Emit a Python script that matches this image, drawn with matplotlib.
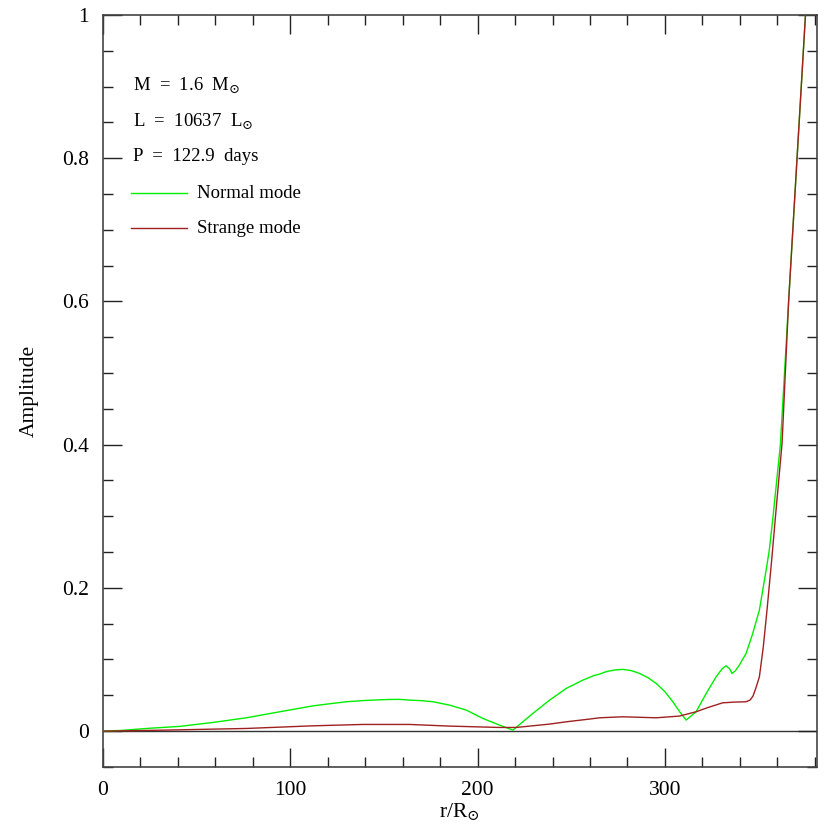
import matplotlib
matplotlib.use("Agg")
import matplotlib.pyplot as plt
from matplotlib.ticker import MultipleLocator

plt.rcParams['font.family'] = ['Liberation Serif', 'DejaVu Serif']
plt.rcParams['mathtext.fontset'] = 'dejavuserif'

# Normal mode (green)
normal_r = [0, 10, 25, 41, 58.8, 76.6, 94.4, 112.2, 122, 130, 140, 147.7, 153,
            158.4, 163.7, 170, 176.2, 185, 194, 202.8, 211.7, 218.8, 229.5,
            238.4, 247.3, 256.2, 262, 265.1, 268.6, 273, 277.5, 282, 286.4,
            291, 295.3, 300, 304.2, 308, 311.3, 316.6, 322, 327.3, 330.5,
            332.6, 334.5, 335.8, 337.5, 339.7, 343.3, 346.8, 350.4, 354, 355.7,
            357.5, 361.6, 366, 370.5, 375, 376]
normal_amp = [0, 0.001, 0.004, 0.0066, 0.0121, 0.0186, 0.027, 0.0353, 0.0385,
              0.041, 0.0428, 0.0437, 0.0442, 0.0443, 0.0433, 0.0425, 0.041,
              0.0363, 0.0293, 0.0177, 0.0084, 0.0014, 0.0247, 0.0433, 0.0596,
              0.0712, 0.0775, 0.0796, 0.083, 0.0853, 0.0862, 0.0845, 0.0806,
              0.0745, 0.0666, 0.055, 0.041, 0.0265, 0.0154, 0.027, 0.0525,
              0.0758, 0.087, 0.0912, 0.087, 0.0806, 0.084, 0.0922, 0.1085,
              0.136, 0.169, 0.225, 0.253, 0.295, 0.4, 0.6, 0.8, 1.0, 1.045]

# Strange mode (dark red)
strange_r = [0, 20, 41, 76.6, 112.2, 138.8, 163.7, 185, 211.7, 220.6, 238.4,
             247.3, 259.7, 265.1, 277.5, 295.3, 307.7, 316.6, 323, 330.8, 337,
             343.3, 345.5, 347, 348.5, 350.4, 352.5, 354.5, 357, 359, 362.5,
             366, 370.5, 375, 376]
strange_amp = [0, 0.0008, 0.0018, 0.0037, 0.0074, 0.0093, 0.0093, 0.007,
               0.0051, 0.0051, 0.0098, 0.013, 0.0168, 0.0186, 0.020, 0.0186,
               0.021, 0.027, 0.033, 0.0395, 0.0405, 0.041, 0.0435, 0.049,
               0.06, 0.0758, 0.118, 0.17, 0.24, 0.3, 0.402, 0.6, 0.8, 1.0,
               1.045]

info_lines = [r"M  =  1.6  M$_{\odot}$", r"L  =  10637  L$_{\odot}$",
              "P  =  122.9  days"]
series_labels = ["Normal mode", "Strange mode"]
green = '#00ee00'
red = '#a02020'

fig = plt.figure(figsize=(8.3, 8.3), dpi=100)
ax = fig.add_axes([0.124, 0.076, 0.860, 0.906])

ax.axhline(0, color='#333333', lw=1.0, zorder=1)
ax.plot(normal_r, normal_amp, color=green, lw=1.0, zorder=3)
ax.plot(strange_r, strange_amp, color=red, lw=1.0, zorder=4)

ax.set_xlim(0, 381)
ax.set_ylim(-0.05, 1.0)
ax.xaxis.set_major_locator(MultipleLocator(100))
ax.xaxis.set_minor_locator(MultipleLocator(20))
ax.yaxis.set_major_locator(MultipleLocator(0.2))
ax.yaxis.set_minor_locator(MultipleLocator(0.05))
ax.yaxis.set_major_formatter(plt.FuncFormatter(
    lambda v, p: "0" if abs(v) < 1e-9 else ("1" if abs(v - 1) < 1e-9 else f"{v:.1f}")))

ax.tick_params(which='both', direction='in', top=True, right=True,
               colors='#222222', labelcolor='black', labelsize=15.5)
ax.tick_params(which='major', length=14, width=1.0, pad=10)
ax.tick_params(which='minor', length=7, width=1.0)
for s in ax.spines.values():
    s.set_color('#444444')
    s.set_linewidth(1.2)

ax.set_xlabel(r"r/R$_{\odot}$", fontsize=15.5, labelpad=1)
ax.set_ylabel("Amplitude", fontsize=15.5, labelpad=17)

# Annotations
info_y = [0.902, 0.852, 0.802]
for txt, yy in zip(info_lines, info_y):
    ax.text(16, yy, txt, fontsize=13.5, va='center', ha='left')

leg_y = [0.751, 0.7025]
for lab, col, yy in zip(series_labels, [green, red], leg_y):
    ax.plot([15, 45], [yy, yy], color=col, lw=1.0)
    ax.text(50, yy, lab, fontsize=13.5, va='center', ha='left')

fig.savefig("out.png", dpi=100)
